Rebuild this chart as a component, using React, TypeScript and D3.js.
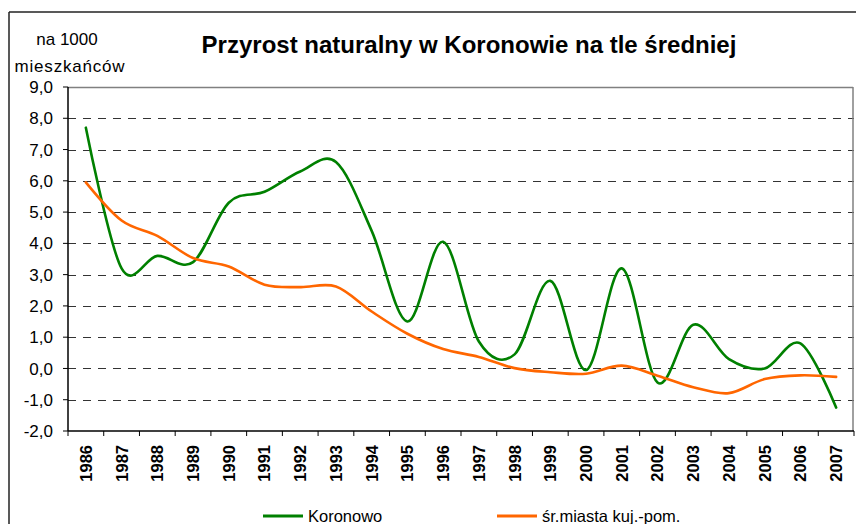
import React from 'react';
import * as d3 from 'd3';

// lata (kategorie osi X)
const years = ['1986', '1987', '1988', '1989', '1990', '1991', '1992', '1993', '1994', '1995', '1996',
  '1997', '1998', '1999', '2000', '2001', '2002', '2003', '2004', '2005', '2006', '2007'];

// przyrost naturalny na 1000 mieszkańców – Koronowo
const koronowo = [7.7, 3.2, 3.6, 3.4, 5.3, 5.65, 6.3, 6.6, 4.4, 1.5, 4.05,
  0.86, 0.45, 2.8, -0.05, 3.2, -0.45, 1.4, 0.3, 0.0, 0.8, -1.25];

// średnia miast kujawsko-pomorskich
const srednia = [5.95, 4.73, 4.24, 3.53, 3.26, 2.68, 2.6, 2.62, 1.82, 1.11, 0.62,
  0.37, 0.01, -0.12, -0.17, 0.09, -0.23, -0.6, -0.79, -0.34, -0.22, -0.27];

const yTicks = [9, 8, 7, 6, 5, 4, 3, 2, 1, 0, -1, -2];

const series = [
  { name: 'Koronowo', values: koronowo, color: '#008000', legendX: 263 },
  { name: 'śr.miasta kuj.-pom.', values: srednia, color: '#FF6600', legendX: 497 },
];

const W = 856;
const H = 524;
const left = 68, right = 854, top = 87, bottom = 431;
const font = 'Arial, "Liberation Sans", sans-serif';

export default function App() {
  const x = d3.scaleBand<string>().domain(years).range([left, right]).padding(0);
  const y = d3.scaleLinear().domain([-2, 9]).range([bottom, top]);
  const cx = (yr: string) => (x(yr) ?? 0) + x.bandwidth() / 2;

  const line = d3.line<number>()
    .x((_, i) => cx(years[i]))
    .y(d => y(d))
    .curve(d3.curveCardinal.tension(0));

  const fmt = (v: number) => v.toFixed(1).replace('.', ',');
  const tickEdges = years.map(yr => x(yr) ?? 0).concat([right]);

  return (
    <div style={{ position: 'fixed', left: 0, top: 0, width: W, height: H, background: '#fff' }}>
      <svg width={W} height={H} style={{ display: 'block', fontFamily: font }}>
        <rect width={W} height={H} fill='#fff' />
        {/* ramka wykresu */}
        <line x1={9} y1={12} x2={W} y2={12} stroke='#222' strokeWidth={1.5} />
        <line x1={9} y1={12} x2={9} y2={H} stroke='#222' strokeWidth={1.5} />

        <text x={469} y={53} textAnchor='middle' fontSize={24} fontWeight='bold' fill='#000'>
          Przyrost naturalny w Koronowie na tle średniej
        </text>
        <text x={67} y={45} textAnchor='middle' fontSize={17} fill='#000'>na 1000</text>
        <text x={70} y={72} textAnchor='middle' fontSize={17} fill='#000' letterSpacing={0.8}>mieszkańców</text>

        {/* siatka */}
        {yTicks.filter(v => v !== 9 && v !== -2).map(v => (
          <line key={v} x1={left} x2={right} y1={Math.round(y(v)) + 0.5} y2={Math.round(y(v)) + 0.5}
            stroke='#333' strokeWidth={1} strokeDasharray='8,7' />
        ))}
        {/* obramowanie obszaru */}
        <line x1={left} x2={right - 1} y1={top + 0.5} y2={top + 0.5} stroke='#808080' strokeWidth={1.5} />
        <line x1={right - 1} x2={right - 1} y1={top} y2={bottom} stroke='#808080' strokeWidth={1.5} />

        {/* oś Y */}
        <line x1={left} x2={left} y1={top} y2={bottom} stroke='#000' strokeWidth={1.5} />
        {yTicks.map(v => (
          <g key={v}>
            <line x1={left - 5} x2={left} y1={y(v)} y2={y(v)} stroke='#000' strokeWidth={1} />
            <text x={53} y={y(v)} dy='0.36em' textAnchor='end' fontSize={17} fill='#000'>{fmt(v)}</text>
          </g>
        ))}

        {/* oś X */}
        <line x1={left} x2={right} y1={bottom} y2={bottom} stroke='#000' strokeWidth={1.5} />
        {tickEdges.map((t, i) => (
          <line key={i} x1={t} x2={t} y1={bottom} y2={bottom + 5} stroke='#000' strokeWidth={1} />
        ))}
        {years.map(yr => (
          <text key={yr} transform={`translate(${cx(yr)},445) rotate(-90)`} dy='0.36em' textAnchor='end'
            fontSize={16.5} fontWeight='bold' fill='#000'>{yr}</text>
        ))}

        {/* serie */}
        {series.map(s => (
          <path key={s.name} d={line(s.values) ?? ''} fill='none' stroke={s.color} strokeWidth={2.6}
            strokeLinejoin='round' strokeLinecap='round' />
        ))}

        {/* legenda */}
        {series.map(s => (
          <g key={s.name + '-leg'}>
            <line x1={s.legendX} x2={s.legendX + 40} y1={516} y2={516} stroke={s.color} strokeWidth={3} />
            <text x={s.legendX + 45} y={516} dy='0.36em' fontSize={16.5} fill='#000'>{s.name}</text>
          </g>
        ))}
      </svg>
    </div>
  );
}
